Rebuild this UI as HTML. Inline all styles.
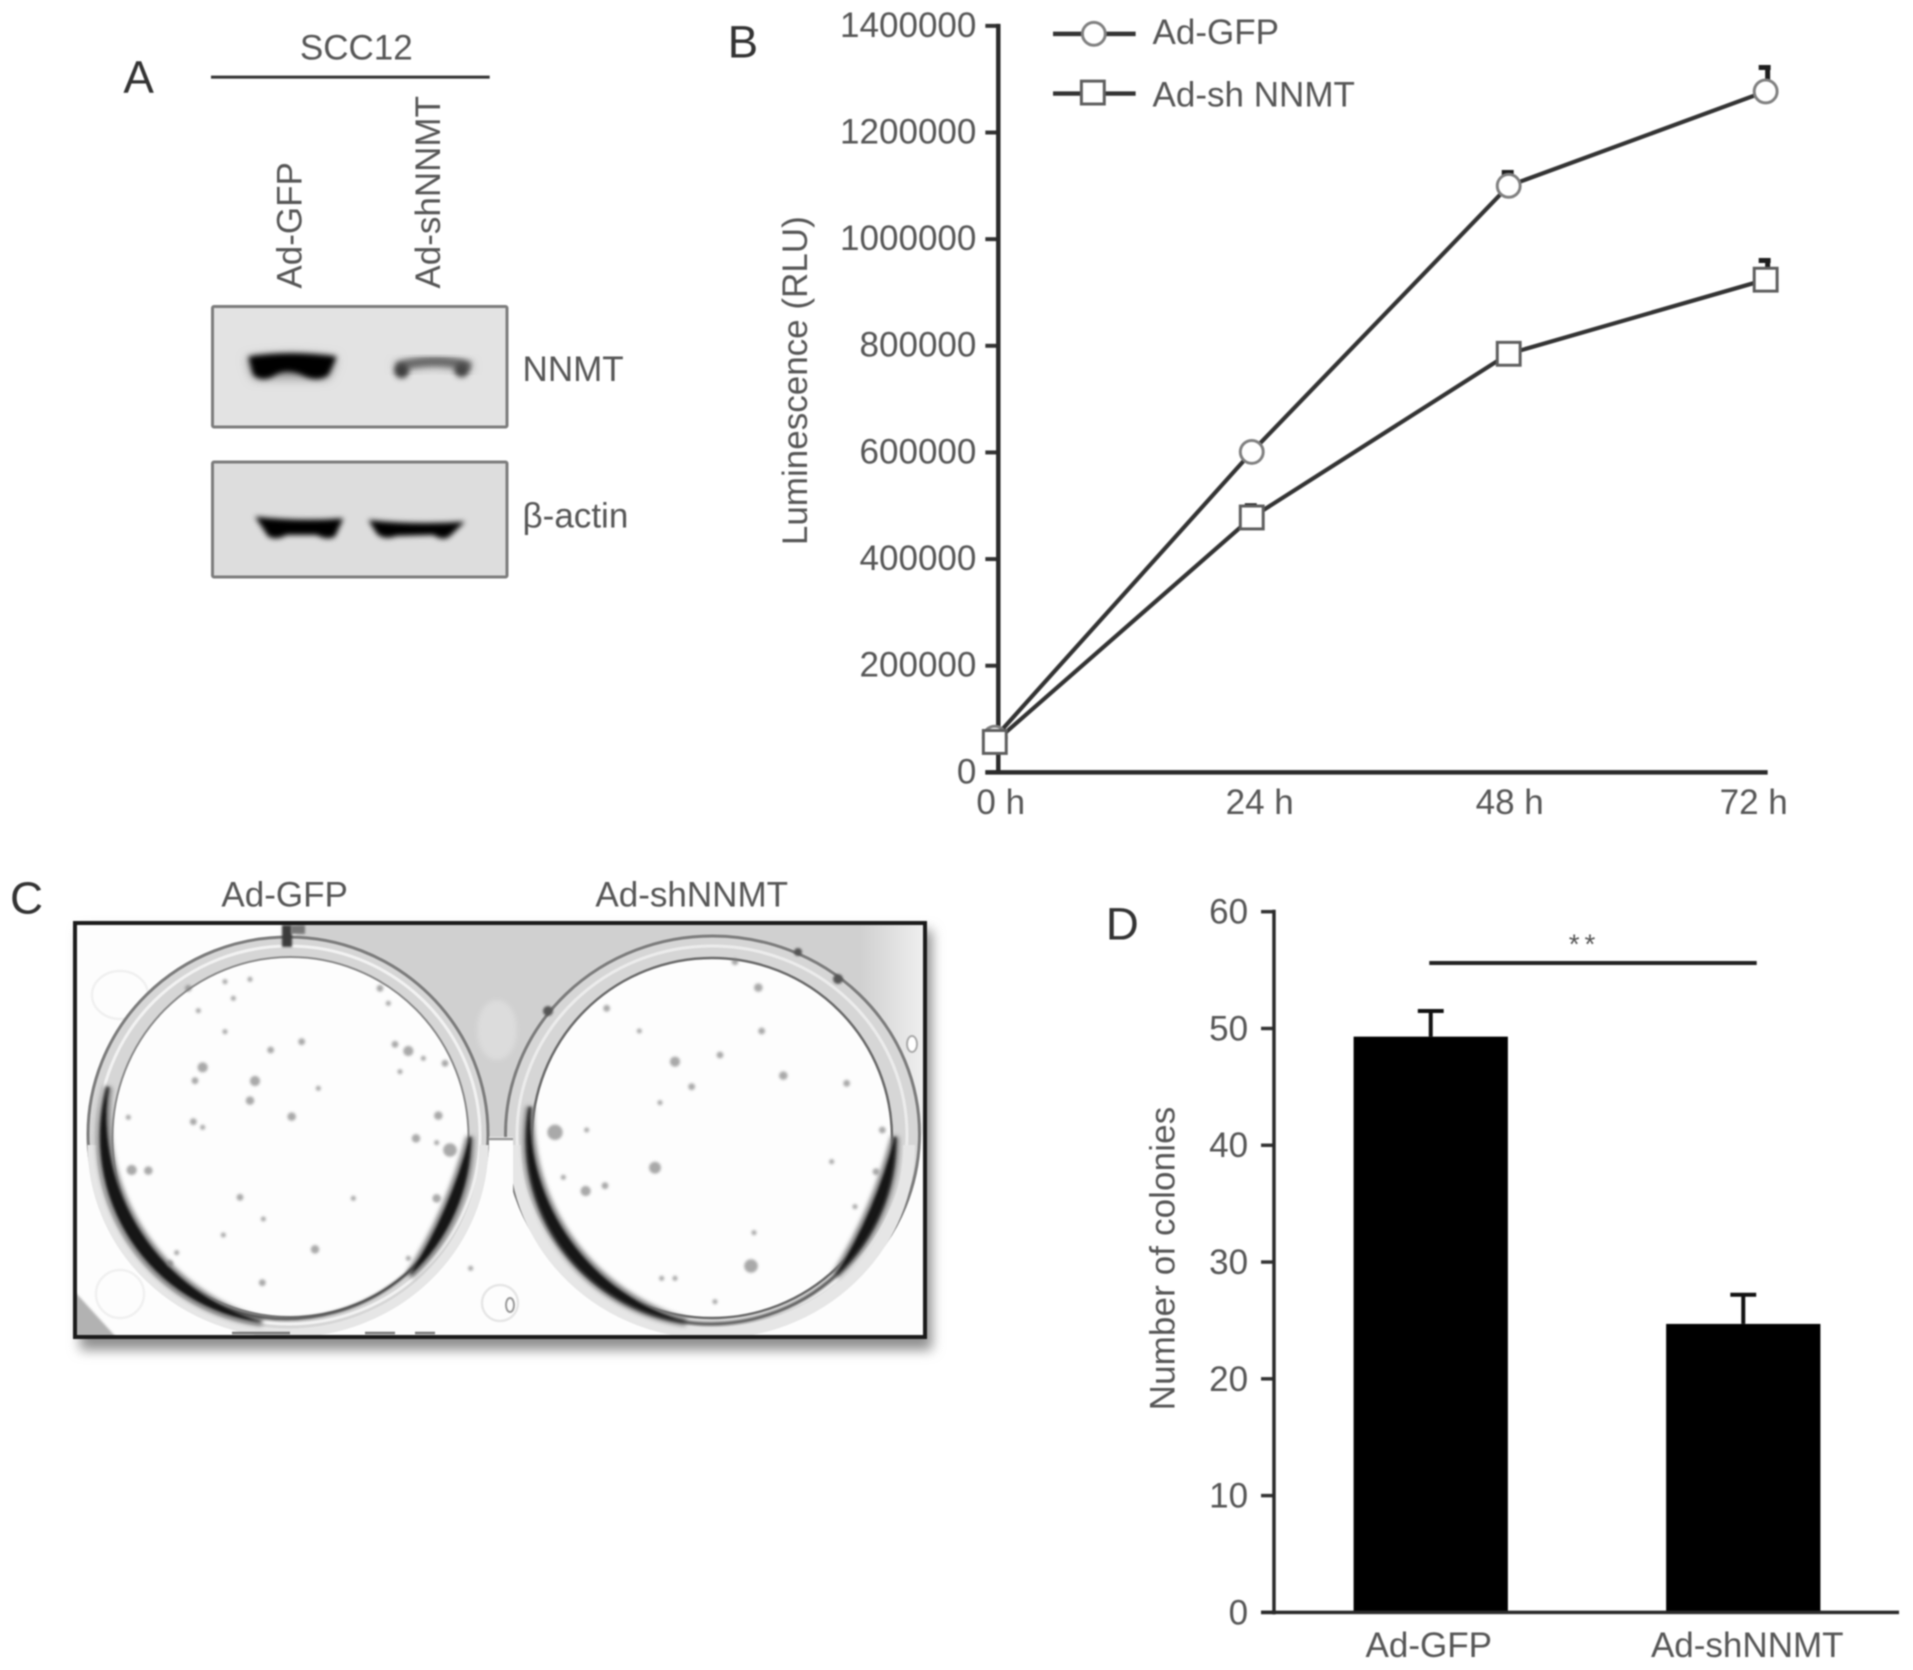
<!DOCTYPE html>
<html lang="en">
<head>
<meta charset="utf-8">
<title>NNMT knockdown figure</title>
<style>
html,body{margin:0;padding:0;background:#fff;}
#figure{display:block;width:1913px;height:1670px;filter:blur(0.7px);}
text{font-family:"Liberation Sans",sans-serif;fill:#565656;font-size:35.2px;}
.panel{font-size:46px;fill:#333;}
</style>
</head>
<body>
<svg id="figure" xmlns="http://www.w3.org/2000/svg" width="1913" height="1670" viewBox="0 0 1913 1670">
<defs>
<filter id="blur1" x="-30%" y="-30%" width="160%" height="160%"><feGaussianBlur stdDeviation="1.1"/></filter>
<filter id="spotBlur" x="-60%" y="-60%" width="220%" height="220%"><feGaussianBlur stdDeviation="1.3"/></filter>
<filter id="soft" x="-10%" y="-10%" width="120%" height="120%"><feGaussianBlur stdDeviation="2.5"/></filter>
<filter id="blur5" x="-10%" y="-10%" width="120%" height="120%"><feGaussianBlur stdDeviation="6"/></filter>
<filter id="bandCore" x="-30%" y="-80%" width="160%" height="260%"><feGaussianBlur stdDeviation="8"/></filter>
<filter id="bandHalo" x="-30%" y="-100%" width="160%" height="300%"><feGaussianBlur stdDeviation="16"/></filter>
<linearGradient id="fadeRight" x1="0" y1="0" x2="1" y2="0"><stop offset="0" stop-color="#fdfdfd" stop-opacity="0"/><stop offset="1" stop-color="#fdfdfd" stop-opacity="0.7"/></linearGradient>
<clipPath id="photo-clip"><rect x="75" y="923" width="850" height="414"/></clipPath>
</defs>

<g>
<rect x="212.5" y="306.5" width="294.5" height="120.5" rx="1.5" fill="#e3e3e3" stroke="#7c7c7c" stroke-width="3"/>
<rect x="212.5" y="462" width="294.5" height="115" rx="1.5" fill="#dddddd" stroke="#7c7c7c" stroke-width="3"/>
<g transform="translate(200,300) scale(0.33333)">
<path d="M140,175 Q270,155 410,175 L385,235 L160,235 Z" fill="#8d8d8d" filter="url(#bandHalo)"/>
<path d="M145,170 Q270,150 410,170 L385,225 Q350,250 300,222 Q260,208 230,222 Q190,250 160,225 Z" fill="#000" filter="url(#bandCore)"/>
<path d="M590,205 Q700,165 810,205" fill="none" stroke="#808080" stroke-width="26" filter="url(#bandHalo)"/>
<path d="M590,200 Q700,170 812,198" fill="none" stroke="#666" stroke-width="24" filter="url(#bandCore)"/>
<circle cx="605" cy="213" r="22" fill="#3c3c3c" filter="url(#bandCore)"/>
<circle cx="785" cy="210" r="22" fill="#444" filter="url(#bandCore)"/>
<path d="M165,650 Q300,665 430,655 L405,710 Q380,722 350,705 L260,705 Q230,722 205,710 Z" fill="#000" filter="url(#bandCore)"/>
<path d="M505,660 Q650,675 795,665 L750,708 Q730,725 700,705 L590,708 Q550,722 530,700 Z" fill="#000" filter="url(#bandCore)"/>
</g>
</g>

<g>
<rect x="80" y="930" width="852" height="420" fill="#8f8f8f" filter="url(#blur5)"/>
<rect x="75" y="923" width="850" height="414" fill="#fdfdfd"/>
<g clip-path="url(#photo-clip)" id="photo-content">
<path d="M295,915 L935,915 L935,1134 L490,1142 L300,1000 Z" fill="#d0d0d0" filter="url(#soft)"/>
<rect x="860" y="923" width="65" height="215" fill="url(#fadeRight)"/>
<ellipse cx="497" cy="1030" rx="20" ry="30" fill="#dcdcdc" filter="url(#soft)"/>
<path d="M75,1292 L116,1337 L75,1337 Z" fill="#b2b2b2" filter="url(#blur1)"/>
<ellipse cx="120" cy="995" rx="28" ry="24" fill="none" stroke="#f0f0f0" stroke-width="2.5"/>
<circle cx="120" cy="1294" r="24" fill="none" stroke="#f0f0f0" stroke-width="2.5"/>

<g>
<ellipse cx="288" cy="1134" rx="200" ry="197" fill="#d6d6d6" stroke="#7c7c7c" stroke-width="3"/>
<ellipse cx="289" cy="1135" rx="191" ry="189" fill="none" stroke="#f2f2f2" stroke-width="3"/>
<ellipse cx="290.5" cy="1137" rx="178" ry="180" fill="#fdfdfd" stroke="#8a8a8a" stroke-width="2"/>
<path d="M92,1145 A196,188 0 0 0 484,1145" fill="none" stroke="#e6e6e6" stroke-width="9"/>
<path d="M108,1087 A184,185 0 0 0 262,1322 A215,215 0 0 1 108,1087 Z M410,1275 A184,185 0 0 0 470,1137 A500,500 0 0 1 410,1275 Z" fill="#777" stroke="#777" stroke-width="8" filter="url(#soft)"/>
<path d="M108,1087 A184,185 0 1 0 470,1137" fill="none" stroke="#4a4a4a" stroke-width="3" filter="url(#blur1)"/>
<path d="M108,1087 A184,185 0 0 0 262,1322 A215,215 0 0 1 108,1087 Z M410,1275 A184,185 0 0 0 470,1137 A500,500 0 0 1 410,1275 Z" fill="#141414" filter="url(#blur1)"/>
<rect x="282" y="925" width="10" height="22" fill="#3a3a3a" filter="url(#blur1)"/>
<rect x="291" y="925" width="14" height="9" fill="#777" filter="url(#blur1)"/>
</g>
<g>
<ellipse cx="712.5" cy="1134" rx="207" ry="198" fill="#d6d6d6" stroke="#7c7c7c" stroke-width="3"/>
<ellipse cx="712" cy="1135" rx="195" ry="189" fill="none" stroke="#ececec" stroke-width="3"/>
<ellipse cx="712" cy="1138" rx="180" ry="180" fill="#fdfdfd" stroke="#6a6a6a" stroke-width="2.5"/>
<path d="M515,1145 A197,188 0 0 0 909,1145" fill="none" stroke="#e6e6e6" stroke-width="12"/>
<path d="M530,1107 A184,184 0 0 0 686,1322 A215,215 0 0 1 530,1107 Z M836,1275 A184,184 0 0 0 895,1137 A500,500 0 0 1 836,1275 Z" fill="#777" stroke="#777" stroke-width="8" filter="url(#soft)"/>
<path d="M530,1107 A184,184 0 1 0 895,1137" fill="none" stroke="#4a4a4a" stroke-width="3" filter="url(#blur1)"/>
<path d="M530,1107 A184,184 0 0 0 686,1322 A215,215 0 0 1 530,1107 Z M836,1275 A184,184 0 0 0 895,1137 A500,500 0 0 1 836,1275 Z" fill="#141414" filter="url(#blur1)"/>
<circle cx="548" cy="1011" r="5" fill="#555" filter="url(#blur1)"/>
<circle cx="798" cy="952" r="4" fill="#555" filter="url(#blur1)"/>
<circle cx="838" cy="979" r="5" fill="#555" filter="url(#blur1)"/>
</g>
<rect x="489" y="1137" width="24" height="200" fill="#fdfdfd"/>
<path d="M489,1139 H513" stroke="#999" stroke-width="2.5"/>
<circle cx="500" cy="1303" r="18" fill="none" stroke="#e6e6e6" stroke-width="2.5"/>
<ellipse cx="510" cy="1305" rx="4" ry="7" fill="none" stroke="#999" stroke-width="2"/>
<ellipse cx="912" cy="1044" rx="5" ry="8" fill="#fff" stroke="#aaa" stroke-width="2"/>
</g>
<path d="M232,1333 H290 M415,1333 H435 M365,1333 H395" stroke="#777" stroke-width="2.5"/>
<rect x="75" y="923" width="850" height="414" fill="none" stroke="#1a1a1a" stroke-width="4"/>
</g>

<g transform="scale(0.9953)">
<g>
<text class="panel" x="124" y="93">A</text>
<text x="358" y="60" text-anchor="middle">SCC12</text>
<line x1="212" y1="77.5" x2="492" y2="77.5" stroke="#333" stroke-width="3"/>
<text transform="translate(303,290) rotate(-90)">Ad-GFP</text>
<text transform="translate(442,290) rotate(-90)">Ad-shNNMT</text>
<text x="525" y="383">NNMT</text>
<text x="525" y="530">β-actin</text>
</g>

<g id="panel-b">
<text class="panel" x="731" y="58">B</text>
</g>

<g>
<text class="panel" x="10" y="918">C</text>
<text x="286" y="911" text-anchor="middle">Ad-GFP</text>
<text x="695" y="911" text-anchor="middle">Ad-shNNMT</text>
</g>

<g id="panel-d">
<text class="panel" x="1111" y="944">D</text>
</g>
</g>
</svg>

<script>
// Panel B data
const hourLabels = ['0 h', '24 h', '48 h', '72 h'];
const hourValues = [0, 24, 48, 72];
const lumTicks = [0, 200000, 400000, 600000, 800000, 1000000, 1200000, 1400000];
const gfpValues = [65000, 601000, 1100000, 1277000];
const gfpErrors = [0, 0, 25000, 45000];
const shValues = [57000, 478000, 785000, 924000];
const shErrors = [0, 22000, 0, 36000];

// Panel D data
const barCategories = ['Ad-GFP', 'Ad-shNNMT'];
const barValues = [49.3, 24.7];
const barErrors = [2.2, 2.5];
const colonyTicks = [0, 10, 20, 30, 40, 50, 60];

// Colony spots seen in the photograph of panel C (x, y, size read at 3x zoom of each well crop)
const leftWellSpots = [[428,442,6],[405,482,4],[585,483,6],[570,542,5],[695,590,5],[632,390,4],[725,365,4],[1005,373,4],[1045,393,6],[1090,415,3],[1155,430,4],[1135,587,5],[1068,655,5],[1130,668,3],[1170,690,8],[400,605,4],[428,622,3],[215,750,6],[265,752,5],[205,592,3],[540,832,4],[610,897,3],[880,835,3],[1130,835,5],[765,988,5],[607,1088,4],[490,945,3],[350,998,3],[330,1030,4],[385,205,4],[495,185,3],[570,178,3],[520,235,3],[415,272,3],[495,335,3],[775,505,3],[960,205,4],[985,250,3],[1232,1045,3],[1020,455,3],[1045,1015,3]];
const rightWellSpots = [[835,203,5],[845,333,4],[765,125,4],[585,425,6],[720,405,4],[635,500,4],[540,548,3],[910,467,5],[1100,490,4],[225,637,9],[525,743,7],[317,813,6],[375,797,4],[813,1038,8],[1188,755,4],[1207,630,4],[1125,860,3],[1055,725,3],[822,938,3],[585,1075,3],[545,1075,3],[705,1145,3],[380,265,4],[478,333,3],[250,772,3],[320,630,3]];

const NS = 'http://www.w3.org/2000/svg';
function make(tag, attrs, parent, content) {
  const el = document.createElementNS(NS, tag);
  for (const k in attrs) el.setAttribute(k, attrs[k]);
  if (content !== undefined) el.textContent = content;
  parent.appendChild(el);
  return el;
}

// ---- Panel B ----
const panelB = document.getElementById('panel-b');
const xB = h => 999.5 + (h / 72) * 774.5;
const yB = v => 776 - (v / 1400000) * 750;
const labelNudge = [6, 8, 1, -12];

lumTicks.forEach(function (t) {
  const tick = make('line', {x1: 990, x2: 1004, y1: yB(t), y2: yB(t), stroke: '#333', 'stroke-width': 4}, panelB);
  
  
  const lab = make('text', {x: 981, y: yB(t) + 11, 'text-anchor': 'end'}, panelB, String(t));
  
  
});
const axisBY = make('line', {x1: 1003, x2: 1003, y1: 24, y2: 778, stroke: '#2a2a2a', 'stroke-width': 4.5}, panelB);


const axisBX = make('line', {x1: 990, x2: xB(72) + 2, y1: 776, y2: 776, stroke: '#2a2a2a', 'stroke-width': 4.5}, panelB);


hourValues.forEach(function (h, i) {
  const lab = make('text', {x: xB(h) + labelNudge[i], y: 818, 'text-anchor': 'middle'}, panelB, hourLabels[i]);
  
  
});
const titleB = make('text', {transform: 'translate(811,382.5) rotate(-90)', 'text-anchor': 'middle'}, panelB, 'Luminescence (RLU)');



function drawSeries(values, errors, name) {
  const pts = values.map((v, i) => xB(hourValues[i]) + ',' + yB(v)).join(' ');
  const line = make('polyline', {points: pts, fill: 'none', stroke: '#333', 'stroke-width': 4.2}, panelB);
  
  
  values.forEach(function (v, i) {
    if (!errors[i]) return;
    const top = yB(v + errors[i]);
    const x = xB(hourValues[i]);
    const err = make('path', {d: 'M' + (x + 2) + ',' + yB(v) + 'V' + top + 'M' + (x - 7) + ',' + top + 'H' + (x + 5), stroke: '#1e1e1e', 'stroke-width': 5, fill: 'none'}, panelB);
    
    
  });
}
function circleMarker(x, y, parent) {
  return make('circle', {cx: x, cy: y, r: 11.5, fill: '#fff', stroke: '#808080', 'stroke-width': 3}, parent);
}
function squareMarker(x, y, parent) {
  return make('rect', {x: x - 11.5, y: y - 11.5, width: 23, height: 23, fill: '#fff', stroke: '#5e5e5e', 'stroke-width': 3}, parent);
}
drawSeries(gfpValues, gfpErrors, 'ad-gfp');
drawSeries(shValues, shErrors, 'ad-sh-nnmt');
gfpValues.forEach(function (v, i) {
  const m = circleMarker(xB(hourValues[i]), yB(v), panelB);
  
  
});
shValues.forEach(function (v, i) {
  const m = squareMarker(xB(hourValues[i]), yB(v), panelB);
  
  
});

const legend = make('g', {}, panelB);


const legLine1 = make('line', {x1: 1058, x2: 1141, y1: 34, y2: 34, stroke: '#333', 'stroke-width': 4.5}, legend);


const legMark1 = circleMarker(1099, 34, legend);


const legText1 = make('text', {x: 1158, y: 44}, legend, 'Ad-GFP');


const legLine2 = make('line', {x1: 1058, x2: 1141, y1: 94, y2: 94, stroke: '#333', 'stroke-width': 4.5}, legend);


const legMark2 = squareMarker(1098, 93, legend);


const legText2 = make('text', {x: 1158, y: 107}, legend, 'Ad-sh NNMT');



// ---- Panel C colonies ----
const photo = document.getElementById('photo-content');
function drawSpots(spots, originX, originY) {
  spots.forEach(function (s) {
    const dot = make('circle', {cx: originX + s[0] / 3, cy: originY + s[1] / 3, r: s[2] * 0.85, fill: '#7b7b7b', 'fill-opacity': 0.65, filter: 'url(#spotBlur)'}, photo);
    
    
  });
}
drawSpots(leftWellSpots, 60, 920);
drawSpots(rightWellSpots, 480, 920);

// ---- Panel D ----
const panelD = document.getElementById('panel-d');
const yD = v => 1620 - (v / 60) * 704;
const xD = i => 1437.5 + i * 314;
const labelShift = [-2, 4];
const barWidth = 155;

barValues.forEach(function (v, i) {
  const top = yD(v + barErrors[i]);
  const err = make('path', {d: 'M' + xD(i) + ',' + yD(v) + 'V' + top + 'M' + (xD(i) - 13) + ',' + top + 'H' + (xD(i) + 13), stroke: '#111', 'stroke-width': 4, fill: 'none'}, panelD);
  
  
  const bar = make('rect', {x: xD(i) - barWidth / 2, y: yD(v), width: barWidth, height: yD(0) - yD(v), fill: '#000'}, panelD);
  
  
  const lab = make('text', {x: xD(i) + labelShift[i], y: 1665, 'text-anchor': 'middle'}, panelD, barCategories[i]);
  
  
});
colonyTicks.forEach(function (t) {
  const tick = make('line', {x1: 1267, x2: 1281, y1: yD(t), y2: yD(t), stroke: '#333', 'stroke-width': 3.5}, panelD);
  
  
  const lab = make('text', {x: 1254, y: yD(t) + 12, 'text-anchor': 'end'}, panelD, String(t));
  
  
});
const axisDY = make('line', {x1: 1280, x2: 1280, y1: 914, y2: 1622, stroke: '#2a2a2a', 'stroke-width': 3.5}, panelD);


const axisDX = make('line', {x1: 1267, x2: 1908, y1: 1620, y2: 1620, stroke: '#2a2a2a', 'stroke-width': 3.5}, panelD);


const titleD = make('text', {transform: 'translate(1180,1264.5) rotate(-90)', 'text-anchor': 'middle', textLength: 305, lengthAdjust: 'spacing'}, panelD, 'Number of colonies');


const sigLine = make('line', {x1: 1436, x2: 1765, y1: 967.5, y2: 967.5, stroke: '#222', 'stroke-width': 4}, panelD);


const sigText = make('text', {x: 1592, y: 958, 'text-anchor': 'middle', style: 'font-size:28px;letter-spacing:5px'}, panelD, '**');


</script>
</body>
</html>
